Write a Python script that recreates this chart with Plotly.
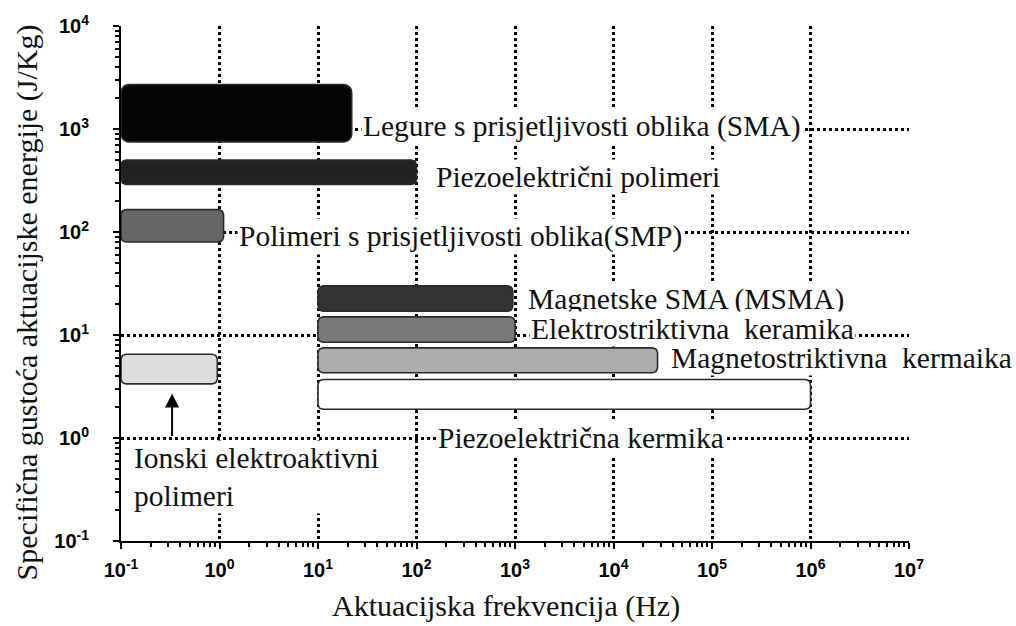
import numpy as np
import plotly.graph_objects as go

# ---------------- data ----------------
materials = [
    "Legure s prisjetljivosti oblika (SMA)",
    "Piezoelektrični polimeri",
    "Polimeri s prisjetljivosti oblika(SMP)",
    "Magnetske SMA (MSMA)",
    "Elektrostriktivna  keramika",
    "Magnetostriktivna  kermaika",
    "Piezoelektrična kermika",
    "Ionski elektroaktivni polimeri",
]
freq_min = [0.1, 0.1, 0.1, 10, 10, 10, 10, 0.1]
freq_max = [22, 100, 1.1, 950, 1000, 28000, 1e6, 0.95]
energy_min = [750, 290, 80, 17, 8.5, 4.3, 1.9, 3.35]
energy_max = [2700, 500, 165, 30, 15, 7.5, 3.7, 6.5]
fill_colors = ["#050505", "#222222", "#666666", "#333333", "#7a7a7a", "#adadad", "#ffffff", "#dddddd"]
corner_px = [8, 5, 5, 5, 5, 5, 5, 5]

x_exponents = list(range(-1, 8))
y_exponents = list(range(-1, 5))
x_tickvals = [10.0 ** e for e in x_exponents]
y_tickvals = [10.0 ** e for e in y_exponents]
x_ticktext = [f"10<sup>{e}</sup>" for e in x_exponents]
y_ticktext = [f"10<sup>{e}</sup>" for e in y_exponents]

# ---------------- layout geometry ----------------
W, H = 1016, 626
ML, MR, MT, MB = 121, 107, 23, 85
PW, PH = W - ML - MR, H - MT - MB
XR, YR = [-1, 7], [-1, 4]
px_per_dec_x = PW / (XR[1] - XR[0])
px_per_dec_y = PH / (YR[1] - YR[0])


def rounded_box(x0, x1, y0, y1, r):
    lx0, lx1, ly0, ly1 = np.log10([x0, x1, y0, y1])
    rx = r / px_per_dec_x
    ry = r / px_per_dec_y
    t = np.linspace(0, np.pi / 2, 8)
    xs, ys = [], []
    corners = [
        (lx1 - rx, ly1 - ry, 0.0),
        (lx0 + rx, ly1 - ry, np.pi / 2),
        (lx0 + rx, ly0 + ry, np.pi),
        (lx1 - rx, ly0 + ry, 1.5 * np.pi),
    ]
    for cx, cy, a0 in corners:
        xs += list(cx + rx * np.cos(a0 + t))
        ys += list(cy + ry * np.sin(a0 + t))
    xs.append(xs[0])
    ys.append(ys[0])
    return 10 ** np.array(xs), 10 ** np.array(ys)


fig = go.Figure()
for i, name in enumerate(materials):
    bx, by = rounded_box(freq_min[i], freq_max[i], energy_min[i], energy_max[i], corner_px[i])
    fig.add_trace(go.Scatter(
        x=bx, y=by, mode="lines", fill="toself", name=name,
        fillcolor=fill_colors[i],
        line=dict(color="#2b2b2b", width=1.6),
        showlegend=False, hoverinfo="name",
    ))

serif = "Liberation Serif"
lab_font = dict(family=serif, size=29.5, color="#111111")
title_font = dict(family=serif, size=30, color="#111111")


def px2paper(px, py):
    return (px - ML) / PW, (H - MB - py) / PH


labels = [
    (materials[0], 361, 124),
    (materials[1], 434, 175),
    (materials[2], 237, 235),
    (materials[3], 526, 298),
    (materials[4], 529, 328),
    (materials[5], 669, 357),
    (materials[6], 436, 437),
    ("Ionski elektroaktivni<br>polimeri", 132, 477),
]
for text, px, py in labels:
    xp, yp = px2paper(px, py)
    fig.add_annotation(
        x=xp, y=yp, xref="paper", yref="paper", text=text, showarrow=False,
        xanchor="left", yanchor="middle", align="left", font=lab_font,
        bgcolor="white", borderpad=1,
    )

# arrow pointing to ionic EAP box
fig.add_annotation(
    x=np.log10(0.33), y=np.log10(2.7), xref="x", yref="y",
    ax=0, ay=44, axref="pixel", ayref="pixel",
    showarrow=True, arrowhead=2, arrowsize=1.4, arrowwidth=2, arrowcolor="black", text="",
)

# axis titles
xp, yp = px2paper(506, 606)
fig.add_annotation(x=xp, y=yp, xref="paper", yref="paper", text="Aktuacijska frekvencija (Hz)",
                   showarrow=False, xanchor="center", yanchor="middle", font=title_font)
xp, yp = px2paper(27, 301)
fig.add_annotation(x=xp, y=yp, xref="paper", yref="paper",
                   text="Specifična gustoća aktuacijske energije (J/Kg)",
                   showarrow=False, xanchor="center", yanchor="middle", textangle=-90, font=title_font)

tickfont = dict(family="Liberation Sans", size=20, color="black", weight="bold")
minor_x = [m * 10.0 ** e for e in range(-1, 7) for m in range(2, 10)]
minor_y = [m * 10.0 ** e for e in range(-1, 4) for m in range(2, 10)]

fig.update_xaxes(
    type="log", range=XR, tickmode="array", tickvals=x_tickvals, ticktext=x_ticktext,
    tickfont=tickfont, ticks="outside", ticklen=6, tickwidth=2, tickcolor="black",
    showline=True, linewidth=2, linecolor="black",
    showgrid=True, gridcolor="black", gridwidth=3, griddash="dot",
    minor=dict(tickmode="array", tickvals=minor_x, ticks="outside", ticklen=4, tickwidth=1.5,
               tickcolor="black", showgrid=False),
    zeroline=False, ticklabelstandoff=4,
)
fig.update_yaxes(
    type="log", range=YR, tickmode="array", tickvals=y_tickvals, ticktext=y_ticktext,
    tickfont=tickfont, ticks="outside", ticklen=6, tickwidth=2, tickcolor="black",
    showline=True, linewidth=2, linecolor="black",
    showgrid=True, gridcolor="black", gridwidth=3, griddash="dot",
    minor=dict(tickmode="array", tickvals=minor_y, ticks="outside", ticklen=4, tickwidth=1.5,
               tickcolor="black", showgrid=False),
    zeroline=False, ticklabelstandoff=20,
)

fig.update_layout(
    width=W, height=H, margin=dict(l=ML, r=MR, t=MT, b=MB),
    paper_bgcolor="white", plot_bgcolor="white", showlegend=False,
)

fig.write_html("out.html", config={"displayModeBar": False},
               post_script="document.body.style.margin='0px';")
